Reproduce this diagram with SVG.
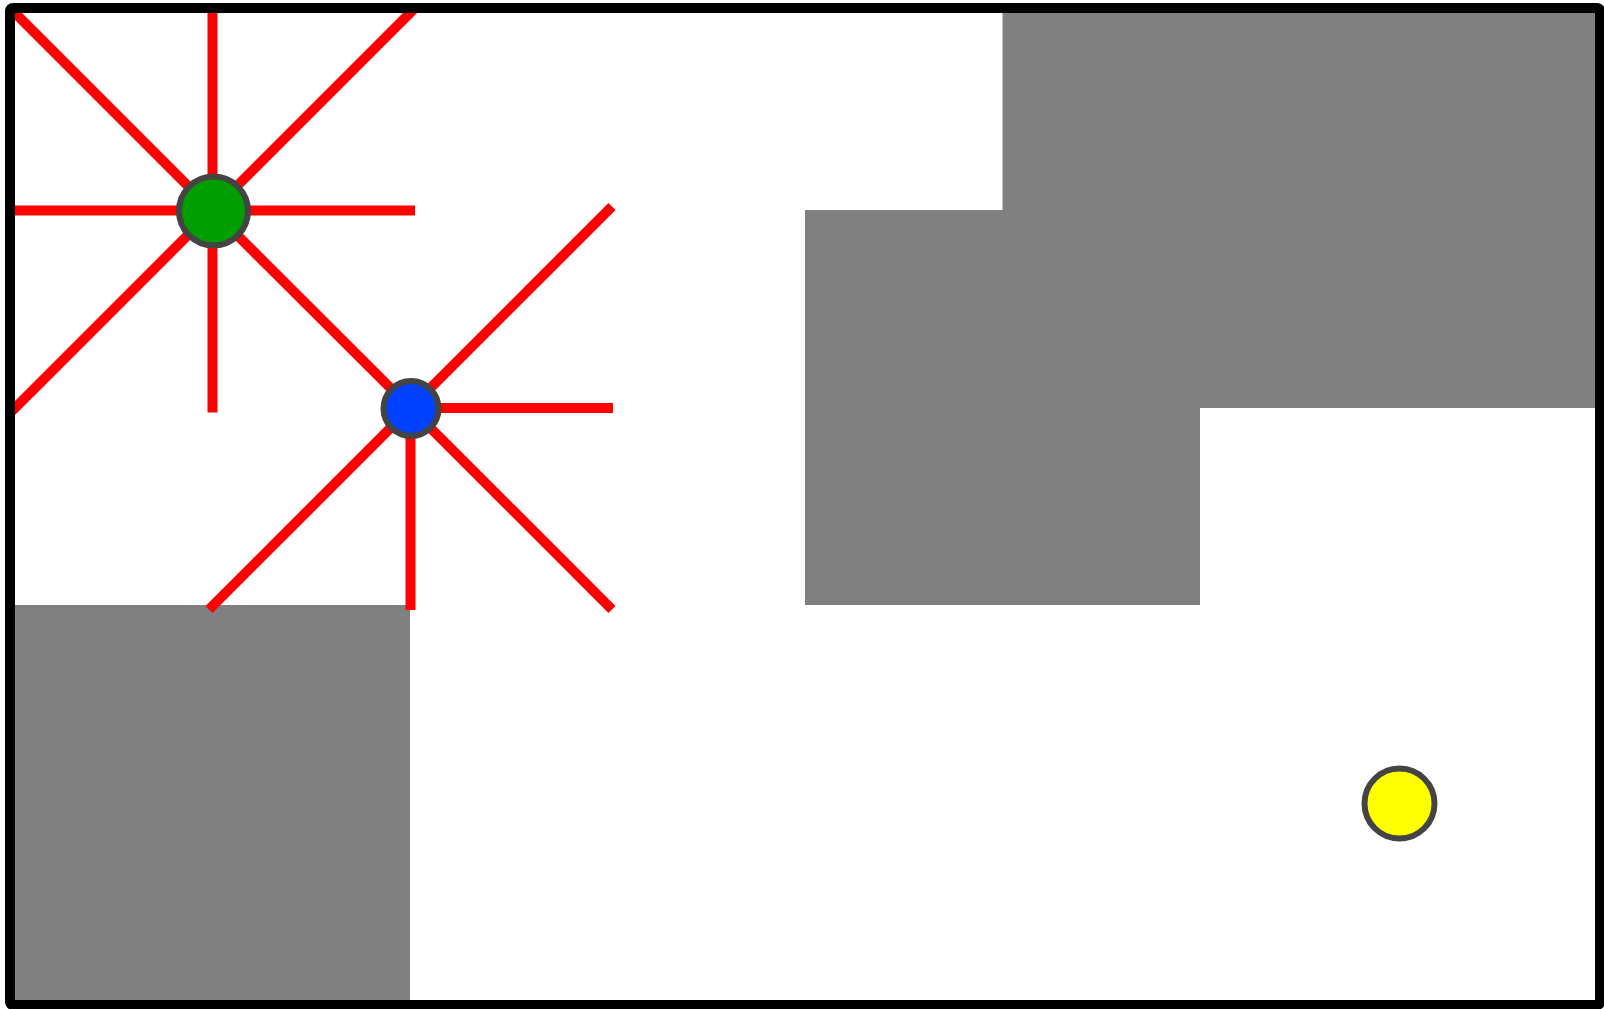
<svg xmlns="http://www.w3.org/2000/svg" width="1604" height="1009" viewBox="0 0 1604 1009">
  <style>
    .wall { fill: #808080; }
    .ray { stroke: #ff0000; stroke-width: 10; stroke-linecap: butt; fill: none; }
    .agent { stroke: #444444; stroke-width: 6; }
    .frame { fill: none; stroke: #000000; stroke-width: 10; }
  </style>
  <rect x="0" y="0" width="1604" height="1009" fill="#ffffff"/>
  <g id="walls">
    <rect class="wall" x="15" y="605" width="395" height="395"/>
    <rect class="wall" x="805" y="210" width="395" height="395"/>
    <path class="wall" d="M1002.5 13 H1595 V408 H1200 V210 H1002.5 Z"/>
  </g>
  <g id="connectors">
    <line class="ray" x1="212.5" y1="210.5" x2="212.5" y2="8"/>
    <line class="ray" x1="212.5" y1="210.5" x2="10" y2="210.5"/>
    <line class="ray" x1="212.5" y1="210.5" x2="415" y2="210.5"/>
    <line class="ray" x1="212.5" y1="210.5" x2="212.5" y2="412.5"/>
    <line class="ray" x1="212.5" y1="210.5" x2="10.5" y2="8.5"/>
    <line class="ray" x1="212.5" y1="210.5" x2="414.5" y2="8.5"/>
    <line class="ray" x1="212.5" y1="210.5" x2="10.5" y2="412.5"/>
    <line class="ray" x1="212.5" y1="210.5" x2="410.5" y2="408"/>
    <line class="ray" x1="410.5" y1="408" x2="612" y2="206.5"/>
    <line class="ray" x1="410.5" y1="408" x2="613" y2="408"/>
    <line class="ray" x1="410.5" y1="408" x2="612" y2="609.5"/>
    <line class="ray" x1="410.5" y1="408" x2="410.5" y2="610"/>
    <line class="ray" x1="410.5" y1="408" x2="209" y2="609.5"/>
  </g>
  <g id="green-agent">
    <circle class="agent" cx="213.5" cy="211" r="34.5" fill="#009e00"/>
  </g>
  <g id="blue-agent">
    <circle class="agent" cx="411" cy="408.5" r="27.5" fill="#0040ff"/>
  </g>
  <g id="yellow-goal">
    <circle class="agent" cx="1399.5" cy="803.5" r="35" fill="#ffff00"/>
  </g>
  <rect class="frame" x="10" y="8" width="1590" height="997" rx="3"/>
</svg>
